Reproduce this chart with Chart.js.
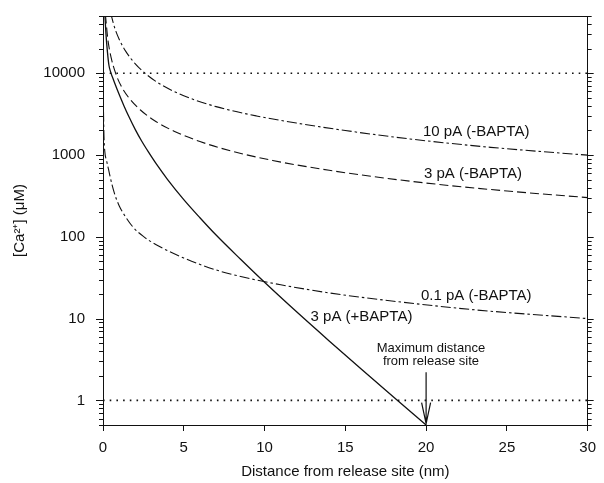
<!DOCTYPE html>
<html>
<head>
<meta charset="utf-8">
<script src="https://cdn.jsdelivr.net/npm/chart.js@4.4.1/dist/chart.umd.min.js"></script>
<style>
  html, body { margin: 0; padding: 0; background: #fff; }
  #wrap { width: 604px; height: 483px; }
</style>
</head>
<body>
<div id="wrap"><canvas id="caChart"></canvas></div>
<script>
// distances (nm) and [Ca2+] (uM)
let rBapta3 = [0.104, 0.184, 0.276, 0.367, 0.49, 0.674, 1.041, 1.3, 1.6, 2.0, 2.4, 2.8, 3.3, 4.0, 5.0, 6.0, 7.0, 8.5, 10.1, 12.0, 14.0, 16.0, 18.0, 20.0];
let caBapta3 = [57300, 30000, 18100, 12500, 10100, 8040, 5250, 3980, 2950, 2040, 1470, 1096, 776, 501, 285, 171, 105, 53.5, 26.6, 12.0, 5.33, 2.4, 1.09, 0.5];

let r3pA = [0.15, 0.3, 0.5, 0.78, 1.1, 1.6, 2.3, 3.2, 4.4, 6, 8, 10.5, 14, 19, 24, 30];
let ca3pA = [52000, 26000, 15600, 10000, 7100, 5000, 3570, 2625, 1950, 1460, 1110, 857, 650, 478, 378, 301];

let r10pA = [0.48, 0.7, 1.0, 1.4, 2.0, 2.6, 3.5, 5, 7, 9.5, 12, 15, 19, 24, 30];
let ca10pA = [54200, 37100, 26000, 18600, 13000, 10000, 7430, 5300, 3900, 3000, 2450, 1990, 1570, 1240, 995];

let r01pA = [0.03, 0.06, 0.11, 0.23, 0.34, 0.55, 0.75, 1.0, 1.35, 1.85, 2.5, 3.5, 5, 7, 9, 11, 14, 18, 23, 30];
let ca01pA = [3400, 1700, 1110, 840, 670, 439, 320, 240, 181, 132, 101, 76, 55, 39.3, 31.1, 25.9, 20.6, 16.3, 12.8, 10];

let refLevels = [1, 10000];
let refX = [0, 30];
let maxDistance = 20;

let xTicks = [0, 5, 10, 15, 20, 25, 30];
let yMajor = [1, 10, 100, 1000, 10000];

const FONT = '"Liberation Sans", Arial, Helvetica, sans-serif';
const INK = '#111';

function pts(xs, ys) {
    return xs.map((x, i) => ({ x: x, y: ys[i] }));
}

// minor log ticks between 0.5 and 50000
let yMinor = [];
[0.1, 1, 10, 100, 1000, 10000].forEach(d => {
    for (let m = 2; m <= 9; m++) {
        let v = +(m * d).toPrecision(3);
        if (v >= 0.5 && v <= 50000) yMinor.push(v);
    }
});

let labels = [
    { text: '10 pA (-BAPTA)', x: 23.1, y: 1900, size: 15 },
    { text: '3 pA (-BAPTA)', x: 22.9, y: 582, size: 15 },
    { text: '0.1 pA (-BAPTA)', x: 23.1, y: 19.2, size: 15 },
    { text: '3 pA (+BAPTA)', x: 16.0, y: 10.4, size: 15 },
    { text: 'Maximum distance', x: 20.3, y: 4.3, size: 13 },
    { text: 'from release site', x: 20.3, y: 3.0, size: 13 }
];

const extras = {
    id: 'extras',
    afterDraw(chart) {
        const ctx = chart.ctx;
        const xs = chart.scales.x, ys = chart.scales.y;
        const area = chart.chartArea;
        ctx.save();
        ctx.strokeStyle = INK;
        ctx.lineWidth = 1;
        // top frame line
        ctx.beginPath();
        ctx.moveTo(area.left, Math.round(area.top) + 0.5);
        ctx.lineTo(area.right, Math.round(area.top) + 0.5);
        ctx.stroke();
        // tick marks on both y axes (outward)
        const drawTick = (v, inL, inR) => {
            const py = Math.round(ys.getPixelForValue(v)) + 0.5;
            ctx.beginPath();
            ctx.moveTo(area.left - inL, py);
            ctx.lineTo(area.left, py);
            ctx.moveTo(area.right, py);
            ctx.lineTo(area.right + inR, py);
            ctx.stroke();
        };
        yMajor.forEach(v => drawTick(v, 7, 6));
        yMinor.forEach(v => drawTick(v, 4, 4));
        // curve labels
        ctx.fillStyle = INK;
        ctx.textAlign = 'center';
        ctx.textBaseline = 'middle';
        labels.forEach(l => {
            ctx.font = l.size + 'px ' + FONT;
            ctx.fillText(l.text, xs.getPixelForValue(l.x), ys.getPixelForValue(l.y));
        });
        // arrow to the maximum distance
        const ax = xs.getPixelForValue(maxDistance);
        const top = ys.getPixelForValue(2.2);
        const tip = ys.getPixelForValue(0.52);
        ctx.lineWidth = 1.2;
        ctx.beginPath();
        ctx.moveTo(ax, top);
        ctx.lineTo(ax, tip);
        ctx.moveTo(ax - 4.5, tip - 21);
        ctx.lineTo(ax, tip);
        ctx.lineTo(ax + 4.5, tip - 21);
        ctx.stroke();
        ctx.restore();
    }
};

function logAxis(position, width, showLabels) {
    return {
        type: 'logarithmic',
        position: position,
        min: 0.5,
        max: 50000,
        afterBuildTicks: s => { s.ticks = yMajor.map(v => ({ value: v })); },
        afterFit: s => {
            s.width = width;
            s.paddingTop = 0;
            s.paddingBottom = 0;
        },
        border: { display: true, color: INK, width: 1 },
        grid: { drawOnChartArea: false, drawTicks: false },
        ticks: {
            autoSkip: false,
            display: showLabels,
            padding: 18,
            color: INK,
            font: { family: FONT, size: 15 },
            callback: v => String(v)
        },
        title: {
            display: showLabels,
            text: '[Ca²⁺] (μM)',
            color: INK,
            font: { family: FONT, size: 15 },
            padding: { top: 11, bottom: 0 }
        }
    };
}

let ctxC = document.getElementById('caChart').getContext('2d');
let caChart = new Chart(ctxC, {
    type: 'line',
    data: {
        datasets: [
            {
                label: '3 pA (+BAPTA)',
                data: pts(rBapta3, caBapta3),
                borderColor: INK,
                borderWidth: 1.3
            },
            {
                label: '3 pA (-BAPTA)',
                data: pts(r3pA, ca3pA),
                borderColor: INK,
                borderWidth: 1.1,
                borderDash: [9, 4]
            },
            {
                label: '10 pA (-BAPTA)',
                data: pts(r10pA, ca10pA),
                borderColor: INK,
                borderWidth: 1.1,
                borderDash: [10, 3, 2.5, 3]
            },
            {
                label: '0.1 pA (-BAPTA)',
                data: pts(r01pA, ca01pA),
                borderColor: INK,
                borderWidth: 1.1,
                borderDash: [10, 3, 2.5, 3]
            },
            ...refLevels.map(v => ({
                label: 'ref ' + v,
                data: refX.map(x => ({ x: x, y: v })),
                borderColor: INK,
                borderWidth: 1.6,
                borderDash: [1.6, 5.1]
            }))
        ]
    },
    options: {
        responsive: true,
        maintainAspectRatio: false,
        animation: false,
        layout: { padding: { top: 16, left: 0, right: 0, bottom: 0 } },
        elements: {
            point: { radius: 0 },
            line: { cubicInterpolationMode: 'monotone', fill: false }
        },
        plugins: {
            legend: { display: false },
            tooltip: { enabled: false }
        },
        scales: {
            x: {
                type: 'linear',
                position: 'bottom',
                min: 0,
                max: 30,
                afterBuildTicks: s => { s.ticks = xTicks.map(v => ({ value: v })); },
                afterFit: s => { s.height = 58; },
                border: { display: true, color: INK, width: 1 },
                grid: { drawOnChartArea: false, tickLength: 6, color: INK, tickColor: INK },
                ticks: {
                    padding: 8,
                    color: INK,
                    font: { family: FONT, size: 15 }
                },
                title: {
                    display: true,
                    text: 'Distance from release site (nm)',
                    color: INK,
                    font: { family: FONT, size: 15 },
                    padding: { top: 0, bottom: 2 }
                }
            },
            y: logAxis('left', 103, true),
            y2: logAxis('right', 11, false)
        }
    },
    plugins: [extras]
});
</script>
</body>
</html>
